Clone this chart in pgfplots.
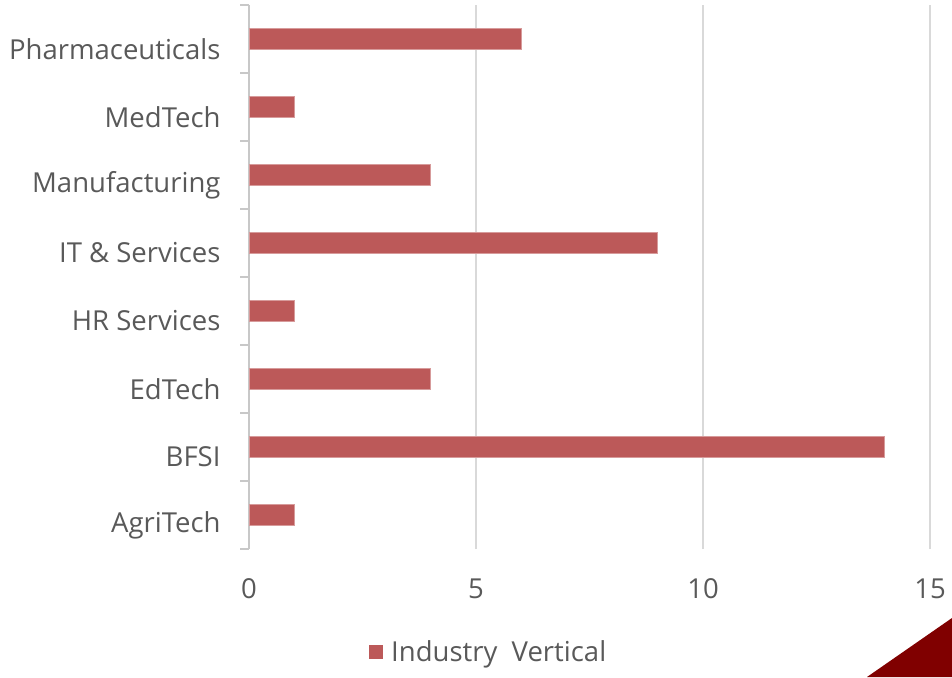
\documentclass[border=0pt]{standalone}
\usepackage{fontspec}
\setmainfont{Open Sans}
\usepackage{pgfplots}
\pgfplotsset{compat=1.18}
\definecolor{barc}{RGB}{188,89,89}
\definecolor{txt}{RGB}{89,89,89}
\definecolor{gridc}{RGB}{217,217,217}
\definecolor{axc}{RGB}{200,200,200}
\definecolor{tri}{RGB}{128,0,0}
\begin{document}
\begin{tikzpicture}[x=1pt,y=1pt]
\path[use as bounding box] (0,0) rectangle (952,677);
\fill[tri] (867,0) -- (952,59) -- (952,0) -- cycle;
\begin{axis}[
  at={(249pt,128pt)}, anchor=south west,
  scale only axis, width=681pt, height=544pt,
  xbar, bar width=0.32,
  xmin=0, xmax=15, ymin=-0.5, ymax=7.5,
  xtick={0,5,10,15},
  ytick={0,...,7},
  yticklabels={AgriTech,BFSI,EdTech,HR Services,IT \& Services,Manufacturing,MedTech\ ,Pharmaceuticals},
  minor ytick={-0.5,0.5,...,7.5},
  major tick length=0pt,
  minor tick length=9pt,
  tick align=outside,
  ytick pos=left,
  xtick pos=bottom,
  xmajorgrids, major x grid style={gridc, line width=1.5pt},
  minor tick style={axc, line width=1.5pt},
  axis x line*=bottom, axis y line*=left,
  x axis line style={draw=none},
  y axis line style={axc, line width=1.5pt},
  every tick label/.append style={font=\fontsize{27.5}{32}\selectfont, text=txt},
  yticklabel style={xshift=-25pt, yshift=-10pt},
  xticklabel style={yshift=-26pt},
  /pgf/number format/assume math mode=true,
  legend style={at={(0.352,-0.189)}, anchor=center, draw=none, fill=none,
    font=\fontsize{27.5}{32}\selectfont, text=txt},
  legend image code/.code={\fill[barc, draw=none] (0pt,-7pt) rectangle (14pt,7pt); \path[draw=none, fill=none] (0pt,0pt) rectangle (20pt,0pt);},
]
\addplot[fill=barc, draw=barc!60!white, line width=0.8pt] coordinates {
(1,0) (14,1) (4,2) (1,3) (9,4) (4,5) (1,6) (6,7)};
\addlegendentry{Industry\ \ Vertical}
\end{axis}
\end{tikzpicture}
\end{document}
